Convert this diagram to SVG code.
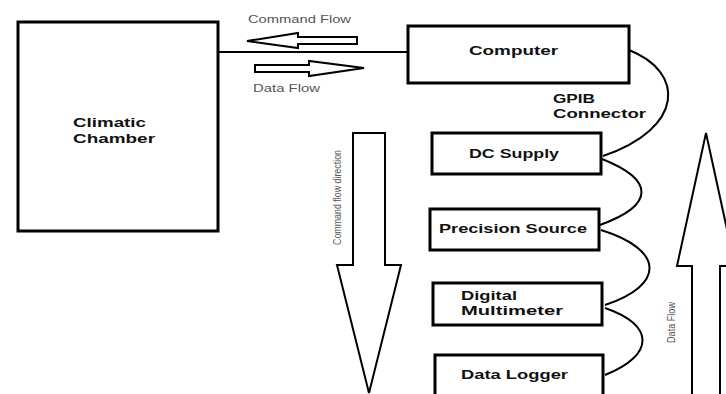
<svg xmlns="http://www.w3.org/2000/svg" width="726" height="394" viewBox="0 0 726 394">
<style>
.box{fill:#fff;stroke:#000;stroke-width:3}
.lbl{font-family:"Liberation Sans",Arial,sans-serif;font-weight:bold;font-size:13.5px;fill:#111}
.note{font-family:"Liberation Sans",Arial,sans-serif;font-size:10px;fill:#555}
.wire{fill:none;stroke:#000;stroke-width:2}
.flow{fill:#fff;stroke:#000;stroke-width:2;stroke-linejoin:miter}
</style>
<rect width="726" height="394" fill="#fff"/>
<g id="connectors">
<line class="wire" x1="218" y1="52" x2="408" y2="52" stroke-width="1.6"/>
<path class="wire" d="M629,50 C685,72 685,128 603,156"/>
<path class="wire" d="M602,159 C655,180 655,205 600,225"/>
<path class="wire" d="M601,230 C665,250 665,285 605,305"/>
<path class="wire" d="M605,308 C655,325 655,355 605,375"/>
</g>
<g id="climatic-chamber">
<rect class="box" x="18" y="22" width="200" height="209" stroke-width="4"/>
<text class="lbl" x="73" y="127" textLength="73" lengthAdjust="spacingAndGlyphs">Climatic</text>
<text class="lbl" x="73" y="143" textLength="82" lengthAdjust="spacingAndGlyphs">Chamber</text>
</g>
<g id="computer">
<rect class="box" x="408" y="26" width="221" height="57"/>
<text class="lbl" x="469" y="55" textLength="89" lengthAdjust="spacingAndGlyphs">Computer</text>
</g>
<g id="gpib-label">
<text class="lbl" x="553" y="103" textLength="42" lengthAdjust="spacingAndGlyphs">GPIB</text>
<text class="lbl" x="553" y="118" textLength="93" lengthAdjust="spacingAndGlyphs">Connector</text>
</g>
<g id="dc-supply">
<rect class="box" x="432" y="133" width="169" height="41"/>
<text class="lbl" x="469" y="158" textLength="90" lengthAdjust="spacingAndGlyphs">DC Supply</text>
</g>
<g id="precision-source">
<rect class="box" x="430" y="209" width="169" height="41"/>
<text class="lbl" x="439" y="233" textLength="148" lengthAdjust="spacingAndGlyphs">Precision Source</text>
</g>
<g id="digital-multimeter">
<rect class="box" x="433" y="283" width="169" height="42"/>
<text class="lbl" x="461" y="300" textLength="56" lengthAdjust="spacingAndGlyphs">Digital</text>
<text class="lbl" x="461" y="315" textLength="102" lengthAdjust="spacingAndGlyphs">Multimeter</text>
</g>
<g id="data-logger">
<rect class="box" x="435" y="355" width="168" height="50"/>
<text class="lbl" x="461" y="379" textLength="107" lengthAdjust="spacingAndGlyphs">Data Logger</text>
</g>
<g id="flow-arrows">
<text class="note" x="248" y="23" textLength="103" lengthAdjust="spacingAndGlyphs">Command Flow</text>
<path class="flow" d="M247,41 L298,33 L298,37 L357,37 L357,44 L298,44 L298,48 Z"/>
<path class="flow" d="M255,65 L309,65 L309,61 L364,68 L309,76 L309,72 L255,72 Z"/>
<text class="note" x="253" y="92" textLength="67" lengthAdjust="spacingAndGlyphs">Data Flow</text>
<path class="flow" d="M353,133 L385,133 L385,265 L401,265 L369,393 L337,265 L353,265 Z"/>
<text class="note" transform="translate(341,245) rotate(-90)" textLength="95" lengthAdjust="spacingAndGlyphs" font-size="9">Command flow direction</text>
<path class="flow" d="M706,133 L735,266 L720,266 L720,400 L692,400 L692,266 L677,266 Z"/>
<text class="note" transform="translate(675,343) rotate(-90)" textLength="41" lengthAdjust="spacingAndGlyphs" font-size="9">Data Flow</text>
</g>
</svg>
